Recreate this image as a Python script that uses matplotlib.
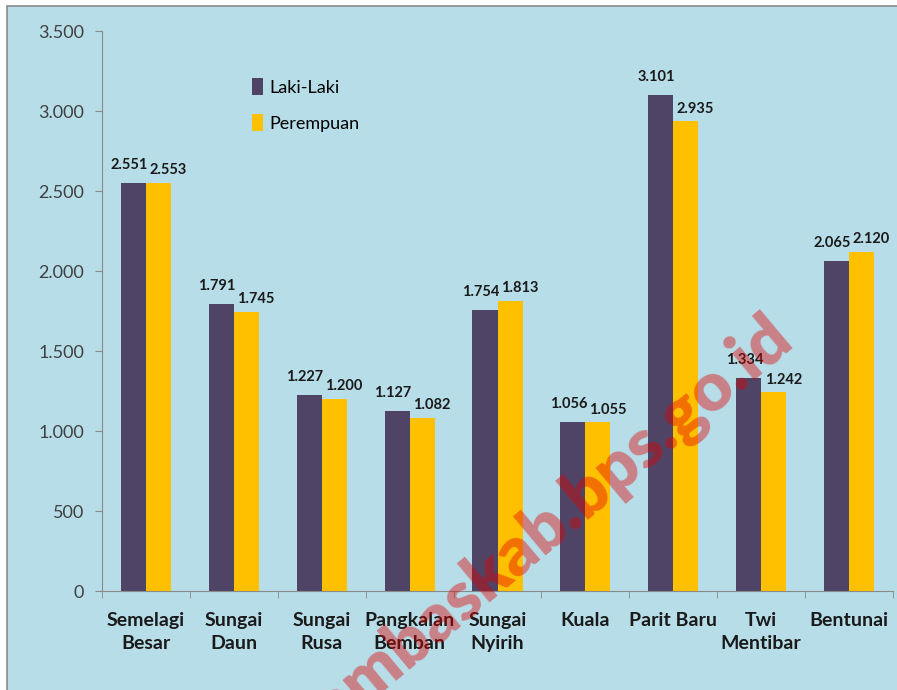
import matplotlib
matplotlib.use("Agg")
import matplotlib.pyplot as plt
from matplotlib.patches import Rectangle
from matplotlib.ticker import FuncFormatter
import numpy as np

categories = ["Semelagi\nBesar", "Sungai\nDaun", "Sungai\nRusa", "Pangkalan\nBemban",
              "Sungai\nNyirih", "Kuala", "Parit Baru", "Twi\nMentibar", "Bentunai"]
laki = [2551, 1791, 1227, 1127, 1754, 1056, 3101, 1334, 2065]
perempuan = [2553, 1745, 1200, 1082, 1813, 1055, 2935, 1242, 2120]
series_names = ["Laki-Laki", "Perempuan"]
yticks = [0, 500, 1000, 1500, 2000, 2500, 3000, 3500]

BG = "#b7dde8"
PURPLE = "#504466"
GOLD = "#ffc000"
plt.rcParams['font.family'] = ['Lato', 'DejaVu Sans']

fig = plt.figure(figsize=(8.97, 6.9), dpi=100)
fig.patch.set_facecolor("white")
fig.patches.append(Rectangle((7/897, -0.01), 1.0, 1 - 6/690 + 0.01, transform=fig.transFigure,
                             facecolor=BG, edgecolor="#8a8a8a", linewidth=1.2, zorder=-10))

ax = fig.add_axes([102/897, 1 - 591/690, 791/897, 560/690])
ax.set_facecolor("none")

x = np.arange(len(categories))
w = 0.285
b1 = ax.bar(x - w/2, laki, w, color=PURPLE, label=series_names[0], zorder=2)
b2 = ax.bar(x + w/2, perempuan, w, color=GOLD, label=series_names[1], zorder=2)

fmt = lambda v: f"{v:,}".replace(",", ".")
for xi, v in zip(x, laki):
    ax.annotate(fmt(v), (xi - w/2, v), xytext=(-3, 13), textcoords="offset points",
                ha="center", va="center", fontsize=10.5, fontweight="bold", color="#1a1a1a")
for xi, v in zip(x, perempuan):
    ax.annotate(fmt(v), (xi + w/2, v), xytext=(7, 9), textcoords="offset points",
                ha="center", va="center", fontsize=10.5, fontweight="bold", color="#1a1a1a")

ax.set_xlim(-0.5, len(categories) - 0.5)
ax.set_ylim(0, 3500)
ax.set_yticks(yticks)
ax.yaxis.set_major_formatter(FuncFormatter(lambda v, p: fmt(int(v))))
ax.tick_params(axis="y", labelsize=13, colors="#8a8a8a", labelcolor="#404040", length=5, pad=8)

ax.set_xticks(x)
ax.set_xticklabels(categories, fontsize=14, fontweight="bold", color="#1a1a1a",
                   linespacing=1.42)
ax.tick_params(axis="x", length=0, pad=15)
ax.set_xticks(np.arange(-0.5, len(categories), 1.0), minor=True)
ax.tick_params(axis="x", which="minor", length=5, color="#8a8a8a")

for s in ["top", "right"]:
    ax.spines[s].set_visible(False)
ax.spines["left"].set_color("#8a8a8a")
ax.spines["bottom"].set_color("#8a8a8a")

ax.legend(loc="upper left", bbox_to_anchor=(0.169, 0.945), frameon=False, fontsize=13,
          handlelength=0.6, handleheight=1.1, handletextpad=0.35, labelspacing=1.0)

fig.text(796/897, 1 - 344/690, "sambaskab.bps.go.id", rotation=40, rotation_mode="anchor",
         ha="right", va="baseline", fontsize=49, fontweight="heavy", color="#e00000",
         alpha=0.42, zorder=10)

fig.savefig("out.png", dpi=100)
